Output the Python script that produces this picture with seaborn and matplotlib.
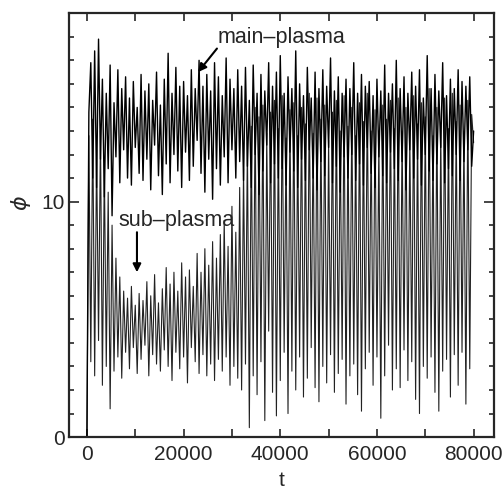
import numpy as np
import pandas as pd
import matplotlib
matplotlib.use("Agg")
import matplotlib.pyplot as plt
from matplotlib.ticker import MultipleLocator
import seaborn as sns

# time grid: one sample every 400 time units, 0 .. 80000
t_step = 400
t = np.arange(0, 80000 + t_step, t_step)

# potential of the main plasma
phi_main = [
    0.0, 13.8, 15.9, 11.0, 16.4, 10.6, 16.9, 11.8, 15.2, 10.2,
    14.6, 11.4, 15.8, 9.4, 14.2, 11.9, 15.6, 10.8, 14.8, 12.2,
    15.3, 11.0, 14.4, 10.7, 15.1, 12.3, 14.0, 11.2, 15.4, 10.9,
    14.7, 11.8, 15.0, 10.5, 14.3, 12.4, 15.5, 11.1, 14.1, 10.3,
    15.2, 11.6, 16.3, 10.8, 14.6, 12.0, 15.7, 11.3, 14.9, 10.6,
    15.1, 12.1, 14.5, 10.9, 15.6, 11.5, 14.8, 12.6, 16.0, 11.2,
    14.9, 10.4, 15.4, 11.8, 14.7, 10.1, 15.9, 11.4, 15.3, 10.7,
    14.5, 11.9, 16.1, 10.8, 15.2, 12.2, 14.8, 11.0, 15.6, 11.7,
    14.9, 10.9, 15.7, 11.5, 14.3, 10.6, 15.8, 12.0, 14.6, 10.3,
    15.4, 11.3, 14.7, 12.4, 15.9, 10.8, 14.9, 11.6, 15.5, 11.0,
    16.2, 11.4, 14.6, 10.7, 15.3, 12.1, 14.8, 11.3, 16.4, 10.6,
    15.0, 11.8, 14.5, 10.9, 15.7, 12.2, 14.4, 11.0, 15.5, 10.5,
    14.8, 11.7, 15.6, 11.1, 14.9, 12.3, 16.1, 10.8, 14.7, 11.5,
    15.3, 10.4, 14.6, 11.9, 15.2, 11.0, 14.8, 12.0, 15.9, 10.9,
    14.6, 11.6, 15.4, 10.7, 14.9, 12.3, 15.1, 11.2, 14.5, 10.6,
    15.2, 11.9, 14.7, 11.1, 15.8, 10.8, 14.6, 12.1, 15.0, 11.4,
    16.0, 10.9, 14.8, 11.7, 15.3, 10.5, 14.6, 12.2, 15.5, 11.0,
    14.9, 11.8, 15.6, 10.7, 14.4, 12.0, 16.2, 11.3, 14.8, 10.9,
    15.4, 11.6, 14.7, 12.3, 15.9, 10.8, 14.5, 11.4, 15.2, 11.1,
    14.8, 12.0, 15.6, 10.9, 15.1, 11.7, 14.9, 12.2, 15.3, 11.5,
    13.0,
]

# potential of the sub plasma
phi_sub = [
    0.0, 12.8, 3.2, 13.5, 2.6, 12.2, 4.1, 13.0, 2.2, 11.6,
    3.0, 10.4, 1.2, 9.0, 2.8, 7.6, 3.4, 6.8, 2.5, 6.2,
    3.6, 5.9, 2.9, 6.4, 3.8, 5.6, 2.7, 6.1, 3.3, 5.8,
    3.9, 6.6, 2.6, 6.0, 3.5, 6.9, 3.1, 5.7, 2.8, 6.3,
    3.7, 7.2, 3.0, 6.5, 2.4, 7.0, 3.6, 6.2, 2.9, 7.4,
    3.4, 6.8, 2.3, 7.1, 3.8, 6.4, 3.2, 7.8, 2.7, 7.0,
    3.5, 8.0, 2.6, 7.3, 3.1, 8.3, 2.4, 7.6, 3.3, 8.6,
    2.8, 9.2, 3.4, 8.1, 2.2, 9.8, 3.0, 8.7, 2.5, 10.6,
    2.0, 11.4, 3.1, 12.5, 0.4, 13.2, 2.6, 14.0, 1.8, 13.6,
    3.2, 14.1, 0.7, 12.9, 4.5, 13.8, 1.9, 14.3, 0.9, 13.1,
    2.4, 14.5, 3.6, 12.7, 1.0, 13.9, 2.8, 14.2, 2.0, 12.8,
    3.4, 14.0, 1.7, 13.3, 2.5, 14.6, 3.8, 12.9, 2.1, 14.4,
    1.5, 13.5, 3.0, 14.1, 2.3, 12.6, 3.5, 13.8, 1.9, 14.3,
    2.7, 13.0, 3.3, 14.5, 1.4, 13.2, 2.6, 14.0, 3.1, 12.8,
    1.8, 14.2, 1.1, 13.4, 2.9, 14.6, 3.6, 13.0, 2.2, 13.9,
    3.4, 12.7, 0.8, 14.1, 2.6, 13.5, 3.9, 14.3, 2.0, 13.1,
    2.9, 14.4, 2.1, 13.0, 3.7, 14.0, 2.4, 12.9, 3.2, 14.5,
    1.6, 13.3, 1.0, 14.2, 3.0, 13.6, 2.5, 14.8, 3.4, 12.8,
    1.9, 14.0, 1.1, 13.2, 2.8, 14.4, 3.3, 13.1, 1.7, 14.6,
    3.5, 13.4, 2.2, 14.1, 3.6, 13.0, 1.4, 14.3, 2.9, 13.7,
    12.5,
]

df = pd.DataFrame({"t": t, "main": phi_main, "sub": phi_sub})

sns.set_style("ticks")
plt.rcParams["font.family"] = ["Liberation Sans", "DejaVu Sans"]
plt.rcParams["mathtext.fontset"] = "dejavusans"

fig = plt.figure(figsize=(5.04, 4.90), dpi=100)
ax = fig.add_axes([0.137, 0.108, 0.843, 0.865])

sns.lineplot(data=df, x="t", y="sub", ax=ax, color="#222222", lw=0.8,
             estimator=None, sort=False)
sns.lineplot(data=df, x="t", y="main", ax=ax, color="black", lw=1.0,
             estimator=None, sort=False)

ax.set_xlim(-3700, 84200)
ax.set_ylim(0, 18)
ax.xaxis.set_major_locator(MultipleLocator(20000))
ax.xaxis.set_minor_locator(MultipleLocator(10000))
ax.yaxis.set_major_locator(MultipleLocator(10))
ax.yaxis.set_minor_locator(MultipleLocator(1))
ax.tick_params(which="both", direction="in", top=True, right=True,
               labelsize=15, width=1.2)
ax.tick_params(axis="x", which="both", length=6, pad=6)
ax.tick_params(axis="y", which="major", length=7, pad=3)
ax.tick_params(axis="y", which="minor", length=3.5)
for s in ax.spines.values():
    s.set_linewidth(1.6)

ax.set_xlabel("t", fontsize=15, labelpad=5)
ax.set_ylabel(r"$\phi$", fontsize=16)
ax.yaxis.set_label_coords(-0.085, 0.552)

# annotations
ax.annotate("", xy=(23000, 15.5), xytext=(26900, 16.5),
            arrowprops=dict(arrowstyle="-|>", color="black", lw=1.5,
                            mutation_scale=12, shrinkA=0, shrinkB=0))
ax.text(27000, 16.75, "main\u2013plasma", fontsize=15.5, ha="left",
        va="baseline")
ax.annotate("", xy=(10350, 7.0), xytext=(10350, 8.7),
            arrowprops=dict(arrowstyle="-|>", color="black", lw=1.5,
                            mutation_scale=12, shrinkA=0, shrinkB=0))
ax.text(6500, 8.95, "sub\u2013plasma", fontsize=15.5, ha="left",
        va="baseline")

fig.savefig("out.png", dpi=100)
